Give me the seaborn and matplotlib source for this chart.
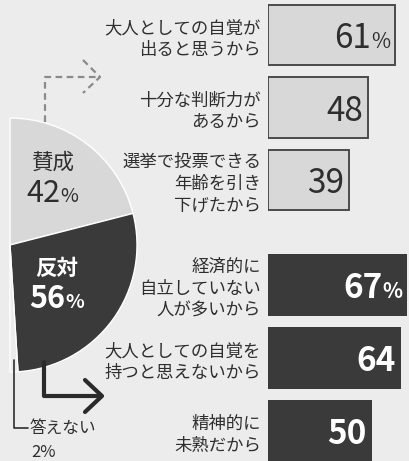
import matplotlib
matplotlib.use('Agg')
import matplotlib.pyplot as plt
import seaborn as sns

sns.set_style('white')
plt.rcParams['font.family'] = ['Noto Sans CJK JP', 'DejaVu Sans']

# data
yes_reasons = ['大人としての自覚が\n出ると思うから', '十分な判断力が\nあるから',
               '選挙で投票できる\n年齢を引き\n下げたから']
yes_pct = [61, 48, 39]
no_reasons = ['経済的に\n自立していない\n人が多いから', '大人としての自覚を\n持つと思えないから',
              '精神的に\n未熟だから']
no_pct = [67, 64, 50]
pie_labels = ['賛成', '反対', '答えない']
pie_pct = [42, 56, 2]

BG = '#ececec'
LIGHT = '#d8d8d8'
DARK = '#3a3a3a'
TXT = '#2e2e2e'

W, H = 409, 461
fig = plt.figure(figsize=(W / 100, H / 100), dpi=100, facecolor=BG)
renderer = fig.canvas.get_renderer()


def px_axes(x0, y0, x1, y1):
    return fig.add_axes([x0 / W, 1 - y1 / H, (x1 - x0) / W, (y1 - y0) / H])


def value_label(ax, x, y, num, with_pct, color, weight):
    off = -5
    if with_pct:
        t = ax.annotate('%', xy=(x, y), xytext=(off, -13), textcoords='offset pixels',
                        ha='right', va='baseline', fontsize=15, color=color, weight=weight)
        off -= t.get_window_extent(renderer).width
    ax.annotate(str(num), xy=(x, y), xytext=(off, -13), textcoords='offset pixels',
                ha='right', va='baseline', fontsize=24, color=color, weight=weight)


scale = 2.08  # px per percent
groups = [
    (yes_reasons, yes_pct, (268, -1.25, W, 216.25), LIGHT, '#4a4a4a', 1.4, TXT, 'normal'),
    (no_reasons, no_pct, (268, 248.5, W, 467.5), DARK, DARK, 0, 'white', 'bold'),
]
for reasons, pct, box, fc, ec, lw, vcol, vw in groups:
    ax = px_axes(*box)
    sns.barplot(x=pct, y=reasons, orient='h', color=fc, saturation=1, width=0.84,
                edgecolor=ec, linewidth=lw, ax=ax)
    ax.set_xlim(0, (W - 268) / scale)
    ax.set_ylim(2.5, -0.5)
    ax.set_facecolor('none')
    sns.despine(ax=ax, left=True, bottom=True)
    ax.set_xticks([])
    ax.set_xlabel('')
    ax.set_ylabel('')
    ax.tick_params(axis='y', length=0, pad=5, labelsize=12.5, labelcolor=TXT)
    for t in ax.get_yticklabels():
        t.set_linespacing(1.28)
    for i, v in enumerate(pct):
        value_label(ax, v, i, v, i == 0, vcol, vw)

# half pie
axp = px_axes(10 - 127, 245 - 127, 10 + 127, 245 + 127)
wedges, _ = axp.pie(pie_pct + [100], colors=[LIGHT, DARK, BG, 'none'],
                    startangle=90, counterclock=False, radius=1)
wedges[3].set_visible(False)
axp.set_xlim(-1, 1)
axp.set_ylim(-1, 1)
axp.axis('off')

# overlay: arrows and pie labels
ov = fig.add_axes([0, 0, 1, 1])
ov.set_xlim(0, W)
ov.set_ylim(H, 0)
ov.axis('off')
ov.patch.set_alpha(0)

ov.plot([45, 45, 100], [122, 77, 77], ls=(0, (3, 2)), color='#8a8a8a', lw=1.6)
ov.plot([83, 100, 83], [60, 77, 93], ls=(0, (3, 2)), color='#8a8a8a', lw=1.6)
ov.plot([44, 44, 100], [362, 396, 396], color='#2a2a2a', lw=3)
ov.plot([85, 102, 85], [380, 396, 412], color='#2a2a2a', lw=3)
ov.plot([14, 14, 28], [360, 428, 428], color=TXT, lw=1.2)

ov.text(53, 163, pie_labels[0], ha='center', va='center', fontsize=15.5, color=TXT)
ov.text(60, 202, str(pie_pct[0]), ha='right', va='baseline', fontsize=22, color=TXT)
ov.text(60, 202, '%', ha='left', va='baseline', fontsize=14, color=TXT)
ov.text(57, 268, pie_labels[1], ha='center', va='center', fontsize=15.5, color='white', weight='bold')
ov.text(65, 308, str(pie_pct[1]), ha='right', va='baseline', fontsize=22, color='white', weight='bold')
ov.text(65, 308, '%', ha='left', va='baseline', fontsize=14, color='white', weight='bold')
ov.text(30, 428, pie_labels[2], ha='left', va='center', fontsize=12, color=TXT)
ov.text(31, 452, f'{pie_pct[2]}%', ha='left', va='center', fontsize=12, color=TXT)

fig.savefig('out.png', dpi=100, facecolor=BG)
